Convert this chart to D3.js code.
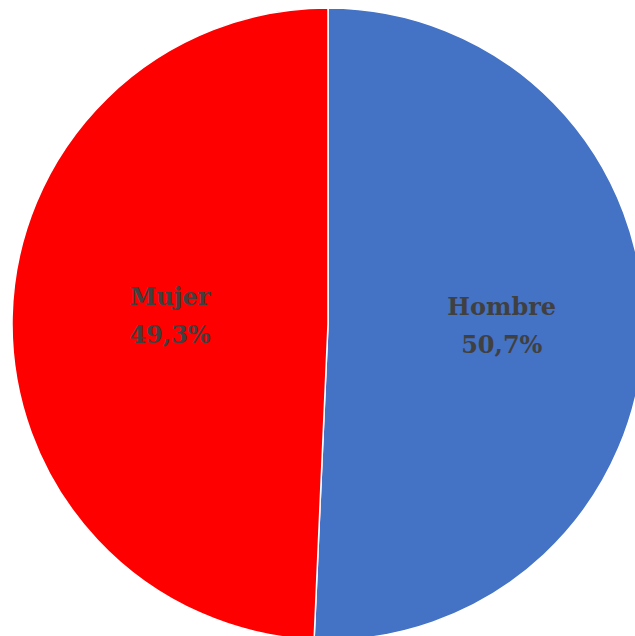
<!DOCTYPE html>
<html><head><meta charset="utf-8">
<script src="https://cdn.jsdelivr.net/npm/d3@7"></script>
<style>html,body{margin:0;padding:0;background:#fff;overflow:hidden}</style>
</head><body>
<svg id="c" width="635" height="636"></svg>
<script>
const categories = ["Hombre", "Mujer"];
const values = [50.7, 49.3];
const valueLabels = ["50,7%", "49,3%"];
const colors = ["#4472C4", "#FF0000"];

const svg = d3.select("#c");
const cx = 328, cy = 324, r = 316;
const g = svg.append("g").attr("transform", `translate(${cx},${cy})`);
const pie = d3.pie().sort(null).value(d => d.v);
const data = categories.map((c, i) => ({c, v: values[i], lab: valueLabels[i], col: colors[i]}));
const arcs = pie(data);
const arc = d3.arc().innerRadius(0).outerRadius(r);
g.selectAll("path").data(arcs).join("path")
  .attr("d", arc).attr("fill", d => d.data.col)
  .attr("stroke", "#fff").attr("stroke-width", 1.5);

const labelFactor = [0.55, 0.50];
const labelDy = [-2, -5];
arcs.forEach((a, i) => {
  const m = (a.startAngle + a.endAngle) / 2;
  const lr = r * labelFactor[i];
  const x = Math.sin(m) * lr, y = -Math.cos(m) * lr + labelDy[i];
  const t = g.append("text").attr("text-anchor", "middle")
    .attr("font-family", "DejaVu Serif").attr("font-weight", "bold")
    .attr("font-size", 24).attr("fill", "#404040");
  t.append("tspan").attr("x", x).attr("y", y - 19).attr("dy", "0.35em").text(a.data.c);
  t.append("tspan").attr("x", x).attr("y", y + 19).attr("dy", "0.35em").text(a.data.lab);
});
</script>
</body></html>
